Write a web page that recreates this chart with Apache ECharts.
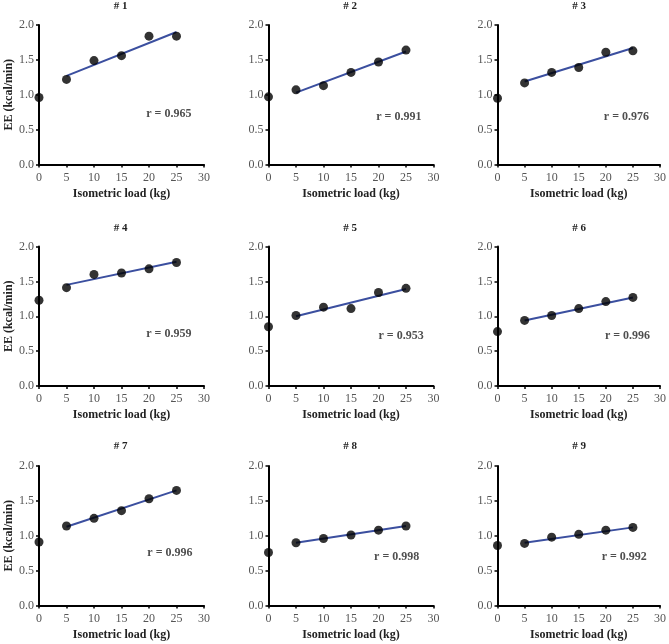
<!DOCTYPE html>
<html><head><meta charset="utf-8">
<script src="https://cdn.jsdelivr.net/npm/echarts@6/dist/echarts.min.js"></script>
<style>html,body{margin:0;padding:0;background:#fff}#c{width:669px;height:644px}</style>
</head><body><div id="c"></div>
<script>
// Data
const loads = [0, 5, 10, 15, 20, 25];
const panelNames = ['# 1','# 2','# 3','# 4','# 5','# 6','# 7','# 8','# 9'];
const ee1 = [0.96, 1.22, 1.49, 1.56, 1.84, 1.84];
const ee2 = [0.97, 1.07, 1.13, 1.32, 1.47, 1.64];
const ee3 = [0.95, 1.17, 1.32, 1.39, 1.61, 1.63];
const ee4 = [1.23, 1.41, 1.60, 1.62, 1.68, 1.77];
const ee5 = [0.85, 1.01, 1.13, 1.11, 1.34, 1.40];
const ee6 = [0.78, 0.94, 1.01, 1.11, 1.21, 1.27];
const ee7 = [0.91, 1.14, 1.25, 1.36, 1.53, 1.65];
const ee8 = [0.76, 0.90, 0.96, 1.01, 1.08, 1.14];
const ee9 = [0.86, 0.89, 0.98, 1.02, 1.08, 1.12];
const fitX = [5, 25];
const fitStart = [1.27, 1.03, 1.19, 1.45, 1.00, 0.94, 1.13, 0.90, 0.90];
const fitEnd   = [1.90, 1.62, 1.67, 1.78, 1.39, 1.27, 1.65, 1.14, 1.12];
const rValues = ['0.965','0.991','0.976','0.959','0.953','0.996','0.996','0.998','0.992'];
const xTicks = [0, 5, 10, 15, 20, 25, 30];
const yTicks = [0, 0.5, 1.0, 1.5, 2.0];
const allEE = [ee1, ee2, ee3, ee4, ee5, ee6, ee7, ee8, ee9];

// Layout (pixels / label anchor in data units)
const colLeft = [39, 268.5, 497.5];
const rowTop = [25, 246.5, 466];
const titleY = [6, 228, 446];
const gridW = 165, gridH = 139.5;
const rLabelAt = [[23.6,0.72],[23.7,0.68],[23.8,0.68],[23.6,0.75],[24.1,0.72],[24.0,0.72],[23.8,0.75],[23.3,0.70],[23.4,0.69]];

const serif = 'Liberation Serif';
const grids = [], xAxes = [], yAxes = [], series = [], graphics = [];
for (let i = 0; i < 9; i++) {
  const r = Math.floor(i / 3), c = i % 3;
  grids.push({left: colLeft[c], top: rowTop[r], width: gridW, height: gridH, containLabel: false});
  graphics.push({type: 'text', x: colLeft[c] + gridW / 2 - 1, y: titleY[r], silent: true,
    style: {text: panelNames[i], align: 'center', verticalAlign: 'middle',
      font: 'bold 11px "Liberation Serif"', fill: '#222'}});
  xAxes.push({type: 'value', gridIndex: i, min: xTicks[0], max: xTicks[xTicks.length - 1], interval: 5,
    name: 'Isometric load (kg)', nameLocation: 'middle', nameGap: 23,
    nameTextStyle: {fontFamily: serif, fontWeight: 'bold', fontSize: 12, color: '#222'},
    axisLine: {onZero: false, lineStyle: {color: '#000', width: 2}},
    axisTick: {show: true, inside: false, length: 3, lineStyle: {color: '#000', width: 1.5}},
    axisLabel: {fontFamily: serif, fontSize: 12, color: '#555', margin: 7},
    splitLine: {show: false}});
  yAxes.push({type: 'value', gridIndex: i, min: yTicks[0], max: yTicks[yTicks.length - 1], interval: 0.5,
    name: c === 0 ? 'EE (kcal/min)' : '', nameLocation: 'middle', nameGap: 24,
    nameTextStyle: {fontFamily: serif, fontWeight: 'bold', fontSize: 12, color: '#222'},
    axisLine: {onZero: false, lineStyle: {color: '#000', width: 2}},
    axisTick: {show: true, inside: false, length: 3, lineStyle: {color: '#000', width: 1.5}},
    axisLabel: {fontFamily: serif, fontSize: 12, color: '#555', margin: 5, formatter: v => v.toFixed(1)},
    splitLine: {show: false}});
  series.push({type: 'line', xAxisIndex: i, yAxisIndex: i, data: [[fitX[0], fitStart[i]], [fitX[1], fitEnd[i]]],
    symbol: 'none', lineStyle: {color: '#3b4f9f', width: 2}, z: 2, silent: true});
  series.push({type: 'scatter', xAxisIndex: i, yAxisIndex: i, data: loads.map((x, k) => [x, allEE[i][k]]),
    symbolSize: 9, itemStyle: {color: '#000'}, z: 3, clip: false});
  series.push({type: 'scatter', xAxisIndex: i, yAxisIndex: i, data: [rLabelAt[i]], symbolSize: 1,
    itemStyle: {color: 'transparent'}, z: 4,
    label: {show: true, position: 'inside', formatter: 'r = ' + rValues[i],
      fontFamily: serif, fontWeight: 'bold', fontSize: 12, color: '#222'}});
}
const chart = echarts.init(document.getElementById('c'));
chart.setOption({animation: false, backgroundColor: '#fff', grid: grids, xAxis: xAxes, yAxis: yAxes, series: series, graphic: graphics});
</script></body></html>
